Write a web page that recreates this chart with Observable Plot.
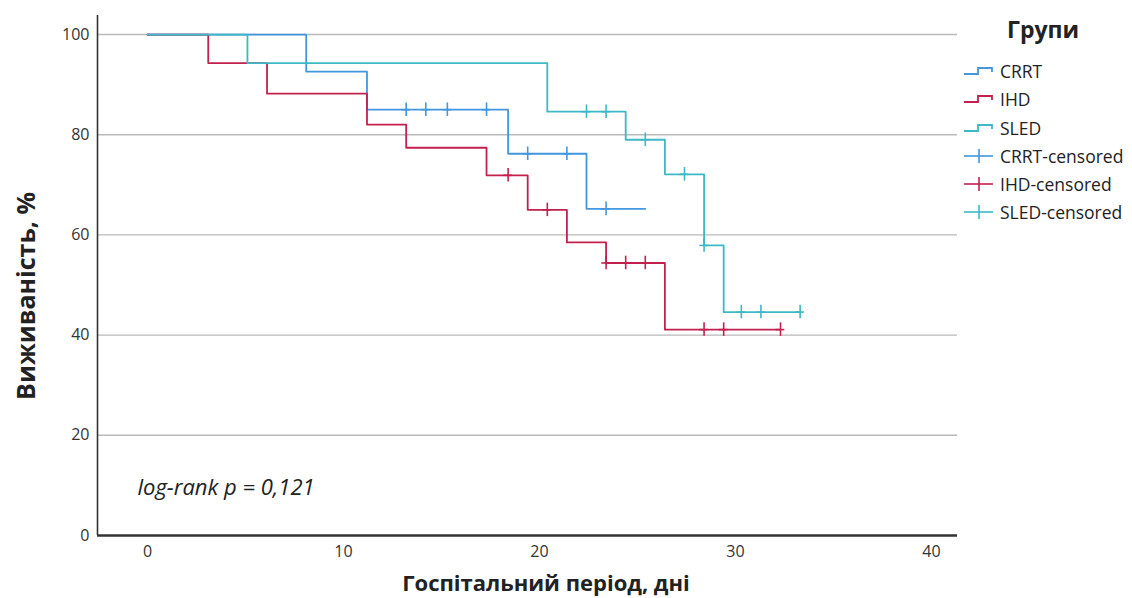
<!DOCTYPE html>
<html>
<head>
<meta charset="utf-8">
<script src="https://cdn.jsdelivr.net/npm/d3@7"></script>
<script src="https://cdn.jsdelivr.net/npm/@observablehq/plot@0.6"></script>
<style>
  html, body { margin: 0; padding: 0; background: #fff; }
  body { font-family: "Open Sans", sans-serif; color: #222; }
  #wrap { position: relative; width: 1132px; height: 598px; overflow: hidden; }
  #wrap > svg { position: absolute; left: 0; top: 0; }
  .ylab { position: absolute; left: 25px; top: 296px; transform: translate(-50%, -50%) rotate(-90deg);
          font-weight: 700; font-size: 25px; white-space: nowrap; color: #222; }
  .xlab { position: absolute; left: 546px; top: 582px; transform: translate(-50%, -50%);
          font-weight: 700; font-size: 22px; white-space: nowrap; color: #222; }
  .legend { position: absolute; left: 962px; top: 14px; }
  .legend .title { position: absolute; left: 45px; top: -1px; font-weight: 700; font-size: 23px; white-space: nowrap; }
  .legend .item { position: absolute; left: 0; height: 20px; display: flex; align-items: center; font-size: 17.5px; white-space: nowrap; }
  #wrap .legend svg { position: static; margin-right: 6px; flex: none; }
</style>
</head>
<body>
<div id="wrap"></div>
<script>
// ---- data (days, survival %) ----
const groups = ["CRRT", "IHD", "SLED"];
const groupColors = ["#4297dd", "#c2214d", "#3cb9c4"];

const crrtDays = [0, 8.1, 11.2, 18.4, 22.4, 25.4];
const crrtSurv = [100, 92.6, 85.0, 76.2, 65.2, 65.2];
const crrtCensDays = [13.2, 14.2, 15.3, 17.3, 19.4, 21.4, 23.4];
const crrtCensSurv = [85.0, 85.0, 85.0, 85.0, 76.2, 76.2, 65.2];

const ihdDays = [0, 3.1, 6.1, 11.2, 13.2, 17.3, 19.4, 21.4, 23.4, 26.4, 32.3];
const ihdSurv = [100, 94.3, 88.2, 82.0, 77.4, 71.9, 65.0, 58.5, 54.4, 41.1, 41.1];
const ihdCensDays = [18.4, 20.4, 23.4, 24.4, 25.4, 28.4, 29.4, 32.3];
const ihdCensSurv = [71.9, 65.0, 54.4, 54.4, 54.4, 41.1, 41.1, 41.1];

const sledDays = [0, 5.1, 20.4, 24.4, 26.4, 28.4, 29.4, 33.3];
const sledSurv = [100, 94.3, 84.6, 79.0, 72.1, 57.9, 44.6, 44.6];
const sledCensDays = [22.4, 23.4, 25.4, 27.4, 28.4, 30.3, 31.3, 33.3];
const sledCensSurv = [84.6, 84.6, 79.0, 72.1, 57.9, 44.6, 44.6, 44.6];

const xTicks = [0, 10, 20, 30, 40];
const yTicks = [0, 20, 40, 60, 80, 100];
const xDomain = [-2.55, 41.33];
const yDomain = [0, 103.8];

const legendLabels = ["CRRT", "IHD", "SLED", "CRRT-censored", "IHD-censored", "SLED-censored"];
const pText = "log-rank p = 0,121";
const xTitle = "Госпітальний період, дні";
const yTitle = "Виживаність, %";
const legendTitle = "Групи";

// ---- build tables ----
const steps = [];
const cens = [];
function addSeries(g, days, surv, cd, cs) {
  days.forEach((d, i) => steps.push({group: g, day: d, surv: surv[i]}));
  cd.forEach((d, i) => cens.push({group: g, day: d, surv: cs[i]}));
}
addSeries("CRRT", crrtDays, crrtSurv, crrtCensDays, crrtCensSurv);
addSeries("IHD", ihdDays, ihdSurv, ihdCensDays, ihdCensSurv);
addSeries("SLED", sledDays, sledSurv, sledCensDays, sledCensSurv);

const chart = Plot.plot({
  width: 1132,
  height: 598,
  marginLeft: 97,
  marginRight: 175,
  marginTop: 15,
  marginBottom: 63,
  style: {fontFamily: "'Open Sans', sans-serif", fontSize: "16px", color: "#333", background: "transparent"},
  x: {domain: xDomain, ticks: xTicks, tickSize: 0, tickPadding: 10, label: null},
  y: {domain: yDomain, ticks: yTicks, tickSize: 0, tickPadding: 8, label: null},
  color: {domain: groups, range: groupColors},
  marks: [
    Plot.ruleY(yTicks.filter(t => t > 0), {stroke: "#b9b9b9", strokeWidth: 1.4}),
    Plot.ruleX([xDomain[0]], {stroke: "#333", strokeWidth: 1.6}),
    Plot.ruleY([0], {stroke: "#333", strokeWidth: 2.6}),
    Plot.line(steps, {x: "day", y: "surv", z: "group", stroke: "group", curve: "step-after", strokeWidth: 1.8}),
    Plot.ruleX(cens, {x: "day", y1: d => d.surv - 1.35, y2: d => d.surv + 1.35, stroke: "group", strokeWidth: 1.6}),
    Plot.ruleY(cens, {y: "surv", x1: d => d.day - 0.22, x2: d => d.day + 0.22, stroke: "group", strokeWidth: 1.6}),
    Plot.text([pText], {frameAnchor: "bottom-left", dx: 40, dy: -41, text: d => d, fontSize: 22, fontStyle: "italic", fill: "#222", textAnchor: "start"})
  ]
});

const wrap = document.getElementById("wrap");
wrap.appendChild(chart);

const yl = document.createElement("div"); yl.className = "ylab"; yl.textContent = yTitle; wrap.appendChild(yl);
const xl = document.createElement("div"); xl.className = "xlab"; xl.textContent = xTitle; wrap.appendChild(xl);

// legend
const lg = document.createElement("div"); lg.className = "legend"; wrap.appendChild(lg);
const tt = document.createElement("div"); tt.className = "title"; tt.textContent = legendTitle; lg.appendChild(tt);
const rowTops = [47, 75, 104, 132, 160, 188];
legendLabels.forEach((lab, i) => {
  const col = groupColors[i % 3];
  const it = document.createElement("div"); it.className = "item"; it.style.top = rowTops[i] + "px";
  const censored = i >= 3;
  const icon = censored
    ? `<svg width="32" height="18"><line x1="2" y1="9" x2="31" y2="9" stroke="${col}" stroke-width="1.6"/><line x1="17" y1="2" x2="17" y2="16" stroke="${col}" stroke-width="1.6"/></svg>`
    : `<svg width="32" height="18"><path d="M2,12 H16 V6 H30 V10" fill="none" stroke="${col}" stroke-width="1.8"/></svg>`;
  it.innerHTML = icon + `<span>${lab}</span>`;
  lg.appendChild(it);
});
</script>
</body>
</html>
